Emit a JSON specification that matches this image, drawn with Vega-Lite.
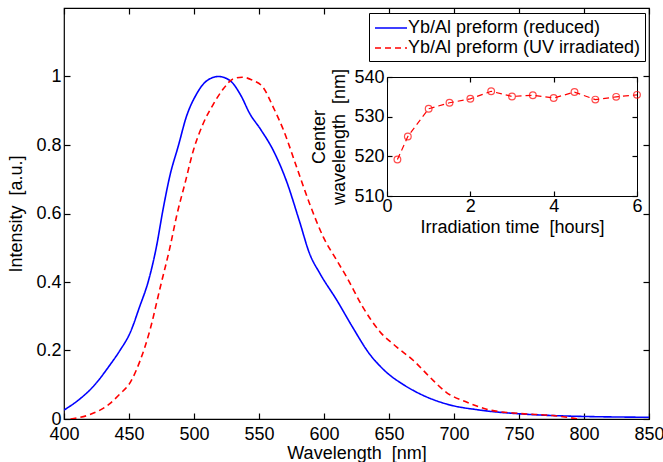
{
  "$schema": "https://vega.github.io/schema/vega-lite/v6.json",
  "width": 585,
  "height": 411,
  "autosize": {"type": "none"},
  "padding": {"left": 64, "top": 8, "right": 14, "bottom": 43},
  "background": "white",
  "config": {
    "font": "Liberation Sans",
    "view": {"stroke": "black", "strokeWidth": 1.2},
    "axis": {
      "grid": false,
      "labelFont": "Liberation Sans",
      "labelFontSize": 18,
      "labelColor": "black",
      "titleFont": "Liberation Sans",
      "titleFontSize": 18,
      "titleFontWeight": "normal",
      "titleColor": "black",
      "domainColor": "black",
      "labelFlush": false,
      "labelOverlap": false
    },
    "legend": {
      "labelFont": "Liberation Sans",
      "labelFontSize": 18,
      "labelColor": "black",
      "labelLimit": 0
    }
  },
  "datasets": {
    "spectra": [
      {"wl": 400, "I": 0.026, "series": "Yb/Al preform (reduced)"},
      {"wl": 412, "I": 0.058, "series": "Yb/Al preform (reduced)"},
      {"wl": 423, "I": 0.097, "series": "Yb/Al preform (reduced)"},
      {"wl": 435, "I": 0.156, "series": "Yb/Al preform (reduced)"},
      {"wl": 443, "I": 0.2, "series": "Yb/Al preform (reduced)"},
      {"wl": 451, "I": 0.253, "series": "Yb/Al preform (reduced)"},
      {"wl": 458, "I": 0.326, "series": "Yb/Al preform (reduced)"},
      {"wl": 465, "I": 0.404, "series": "Yb/Al preform (reduced)"},
      {"wl": 471, "I": 0.501, "series": "Yb/Al preform (reduced)"},
      {"wl": 476, "I": 0.608, "series": "Yb/Al preform (reduced)"},
      {"wl": 481.5, "I": 0.711, "series": "Yb/Al preform (reduced)"},
      {"wl": 488, "I": 0.798, "series": "Yb/Al preform (reduced)"},
      {"wl": 494, "I": 0.881, "series": "Yb/Al preform (reduced)"},
      {"wl": 502, "I": 0.949, "series": "Yb/Al preform (reduced)"},
      {"wl": 510, "I": 0.988, "series": "Yb/Al preform (reduced)"},
      {"wl": 519, "I": 1.0, "series": "Yb/Al preform (reduced)"},
      {"wl": 528, "I": 0.987, "series": "Yb/Al preform (reduced)"},
      {"wl": 536, "I": 0.945, "series": "Yb/Al preform (reduced)"},
      {"wl": 543, "I": 0.891, "series": "Yb/Al preform (reduced)"},
      {"wl": 551, "I": 0.847, "series": "Yb/Al preform (reduced)"},
      {"wl": 561, "I": 0.784, "series": "Yb/Al preform (reduced)"},
      {"wl": 571, "I": 0.696, "series": "Yb/Al preform (reduced)"},
      {"wl": 581, "I": 0.579, "series": "Yb/Al preform (reduced)"},
      {"wl": 589, "I": 0.482, "series": "Yb/Al preform (reduced)"},
      {"wl": 597, "I": 0.424, "series": "Yb/Al preform (reduced)"},
      {"wl": 610, "I": 0.346, "series": "Yb/Al preform (reduced)"},
      {"wl": 622, "I": 0.268, "series": "Yb/Al preform (reduced)"},
      {"wl": 635, "I": 0.19, "series": "Yb/Al preform (reduced)"},
      {"wl": 643, "I": 0.155, "series": "Yb/Al preform (reduced)"},
      {"wl": 650, "I": 0.13, "series": "Yb/Al preform (reduced)"},
      {"wl": 660, "I": 0.103, "series": "Yb/Al preform (reduced)"},
      {"wl": 674, "I": 0.073, "series": "Yb/Al preform (reduced)"},
      {"wl": 694, "I": 0.044, "series": "Yb/Al preform (reduced)"},
      {"wl": 720, "I": 0.026, "series": "Yb/Al preform (reduced)"},
      {"wl": 751, "I": 0.015, "series": "Yb/Al preform (reduced)"},
      {"wl": 784, "I": 0.009, "series": "Yb/Al preform (reduced)"},
      {"wl": 850, "I": 0.005, "series": "Yb/Al preform (reduced)"},
      {"wl": 405, "I": 0.0, "series": "Yb/Al preform (UV irradiated)"},
      {"wl": 420, "I": 0.013, "series": "Yb/Al preform (UV irradiated)"},
      {"wl": 435, "I": 0.044, "series": "Yb/Al preform (UV irradiated)"},
      {"wl": 443, "I": 0.073, "series": "Yb/Al preform (UV irradiated)"},
      {"wl": 451, "I": 0.107, "series": "Yb/Al preform (UV irradiated)"},
      {"wl": 458.5, "I": 0.17, "series": "Yb/Al preform (UV irradiated)"},
      {"wl": 466, "I": 0.258, "series": "Yb/Al preform (UV irradiated)"},
      {"wl": 474, "I": 0.384, "series": "Yb/Al preform (UV irradiated)"},
      {"wl": 481.5, "I": 0.501, "series": "Yb/Al preform (UV irradiated)"},
      {"wl": 487, "I": 0.599, "series": "Yb/Al preform (UV irradiated)"},
      {"wl": 493, "I": 0.687, "series": "Yb/Al preform (UV irradiated)"},
      {"wl": 499.5, "I": 0.784, "series": "Yb/Al preform (UV irradiated)"},
      {"wl": 507, "I": 0.862, "series": "Yb/Al preform (UV irradiated)"},
      {"wl": 515, "I": 0.92, "series": "Yb/Al preform (UV irradiated)"},
      {"wl": 522.6, "I": 0.964, "series": "Yb/Al preform (UV irradiated)"},
      {"wl": 530, "I": 0.993, "series": "Yb/Al preform (UV irradiated)"},
      {"wl": 537, "I": 0.998, "series": "Yb/Al preform (UV irradiated)"},
      {"wl": 545.6, "I": 0.988, "series": "Yb/Al preform (UV irradiated)"},
      {"wl": 553, "I": 0.969, "series": "Yb/Al preform (UV irradiated)"},
      {"wl": 561, "I": 0.91, "series": "Yb/Al preform (UV irradiated)"},
      {"wl": 569, "I": 0.842, "series": "Yb/Al preform (UV irradiated)"},
      {"wl": 579, "I": 0.735, "series": "Yb/Al preform (UV irradiated)"},
      {"wl": 589, "I": 0.628, "series": "Yb/Al preform (UV irradiated)"},
      {"wl": 599.5, "I": 0.531, "series": "Yb/Al preform (UV irradiated)"},
      {"wl": 610, "I": 0.462, "series": "Yb/Al preform (UV irradiated)"},
      {"wl": 617.5, "I": 0.414, "series": "Yb/Al preform (UV irradiated)"},
      {"wl": 630, "I": 0.326, "series": "Yb/Al preform (UV irradiated)"},
      {"wl": 643, "I": 0.255, "series": "Yb/Al preform (UV irradiated)"},
      {"wl": 656, "I": 0.21, "series": "Yb/Al preform (UV irradiated)"},
      {"wl": 669, "I": 0.17, "series": "Yb/Al preform (UV irradiated)"},
      {"wl": 681.5, "I": 0.122, "series": "Yb/Al preform (UV irradiated)"},
      {"wl": 694, "I": 0.078, "series": "Yb/Al preform (UV irradiated)"},
      {"wl": 710, "I": 0.049, "series": "Yb/Al preform (UV irradiated)"},
      {"wl": 728, "I": 0.026, "series": "Yb/Al preform (UV irradiated)"},
      {"wl": 751, "I": 0.016, "series": "Yb/Al preform (UV irradiated)"},
      {"wl": 776, "I": 0.01, "series": "Yb/Al preform (UV irradiated)"},
      {"wl": 796, "I": 0.0, "series": "Yb/Al preform (UV irradiated)"}
    ],
    "inset": [
      {"t": 0.25, "c": 519.2},
      {"t": 0.5, "c": 525.0},
      {"t": 1.0, "c": 532.0},
      {"t": 1.5, "c": 533.5},
      {"t": 2.0, "c": 534.5},
      {"t": 2.5, "c": 536.4},
      {"t": 3.0, "c": 535.1},
      {"t": 3.5, "c": 535.4},
      {"t": 4.0, "c": 534.7},
      {"t": 4.5, "c": 536.2},
      {"t": 5.0, "c": 534.3},
      {"t": 5.5, "c": 535.0},
      {"t": 6.0, "c": 535.5}
    ]
  },
  "resolve": {"scale": {"x": "independent", "y": "independent"}},
  "layer": [
    {
      "data": {"name": "spectra"},
      "resolve": {"axis": {"x": "independent", "y": "independent"}},
      "layer": [
        {
          "mark": {"type": "line", "strokeWidth": 1.6, "interpolate": "monotone", "clip": true},
          "encoding": {
            "x": {
              "field": "wl", "type": "quantitative",
              "scale": {"domain": [400, 850], "nice": false, "zero": false},
              "axis": {"orient": "bottom", "title": "Wavelength \u00a0[nm]", "values": [400, 450, 500, 550, 600, 650, 700, 750, 800, 850], "ticks": false, "labelPadding": 6, "titlePadding": 1, "domain": false}
            },
            "y": {
              "field": "I", "type": "quantitative",
              "scale": {"domain": [0, 1.2], "nice": false, "zero": false},
              "axis": {"orient": "left", "title": "Intensity \u00a0[a.u.]", "values": [0, 0.2, 0.4, 0.6, 0.8, 1], "format": ".1~f", "ticks": false, "labelPadding": 3, "titlePadding": 10, "domain": false}
            },
            "color": {
              "field": "series", "type": "nominal",
              "scale": {"domain": ["Yb/Al preform (reduced)", "Yb/Al preform (UV irradiated)"], "range": ["#0000ff", "#ff0000"]},
              "legend": {"orient": "none", "legendX": 305, "legendY": 5, "title": null, "strokeColor": "black", "fillColor": "white", "padding": 4, "rowPadding": 0, "symbolType": "M-1.6,0H1.6", "symbolSize": 400, "symbolStrokeWidth": 1.5, "symbolOffset": 7, "labelOffset": 6}
            },
            "strokeDash": {
              "field": "series", "type": "nominal",
              "scale": {"domain": ["Yb/Al preform (reduced)", "Yb/Al preform (UV irradiated)"], "range": [[1, 0], [6, 4]]},
              "legend": {"orient": "none", "legendX": 305, "legendY": 5, "title": null, "strokeColor": "black", "fillColor": "white", "padding": 4, "rowPadding": 0, "symbolType": "M-1.6,0H1.6", "symbolSize": 400, "symbolStrokeWidth": 1.5, "symbolOffset": 7, "labelOffset": 6}
            }
          }
        },
        {
          "mark": {"type": "line", "opacity": 0},
          "encoding": {
            "x": {"field": "wl", "type": "quantitative", "axis": {"orient": "top", "offset": -411, "ticks": true, "tickSize": 6, "tickWidth": 1.2, "tickColor": "black", "title": null, "labels": false, "domain": false, "values": [400, 450, 500, 550, 600, 650, 700, 750, 800, 850]}},
            "y": {"field": "I", "type": "quantitative", "axis": {"orient": "right", "offset": -585, "ticks": true, "tickSize": 6, "tickWidth": 1.2, "tickColor": "black", "title": null, "labels": false, "domain": false, "values": [0, 0.2, 0.4, 0.6, 0.8, 1]}},
            "detail": {"field": "series", "type": "nominal"}
          }
        },
        {
          "mark": {"type": "line", "opacity": 0},
          "encoding": {
            "x": {"field": "wl", "type": "quantitative", "axis": {"orient": "bottom", "offset": -411, "ticks": true, "tickSize": 6, "tickWidth": 1.2, "tickColor": "black", "title": null, "labels": false, "domain": false, "values": [400, 450, 500, 550, 600, 650, 700, 750, 800, 850]}},
            "y": {"field": "I", "type": "quantitative", "axis": {"orient": "left", "offset": -585, "ticks": true, "tickSize": 6, "tickWidth": 1.2, "tickColor": "black", "title": null, "labels": false, "domain": false, "values": [0, 0.2, 0.4, 0.6, 0.8, 1]}},
            "detail": {"field": "series", "type": "nominal"}
          }
        }
      ]
    },
    {
      "data": {"name": "inset"},
      "resolve": {"axis": {"x": "independent", "y": "independent"}},
      "layer": [
        {
          "mark": {"type": "line", "color": "#ff0000", "strokeWidth": 1.2, "strokeDash": [6, 4]},
          "encoding": {
            "x": {
              "field": "t", "type": "quantitative",
              "scale": {"domain": [0, 6], "range": [323, 573], "nice": false, "zero": false},
              "axis": {"orient": "bottom", "offset": -223, "title": "Irradiation time \u00a0[hours]", "values": [0, 2, 4, 6], "ticks": false, "labelPadding": 1, "titlePadding": 3, "domain": true}
            },
            "y": {
              "field": "c", "type": "quantitative",
              "scale": {"domain": [510, 540], "range": [188, 69], "nice": false, "zero": false},
              "axis": {"orient": "left", "offset": -323, "title": ["Center", "wavelength \u00a0[nm]"], "titleLineHeight": 20, "values": [510, 520, 530, 540], "ticks": false, "labelPadding": 3, "titlePadding": 5, "domain": true}
            }
          }
        },
        {
          "mark": {"type": "point", "shape": "circle", "filled": false, "color": "#ff0000", "size": 45, "strokeWidth": 1.2},
          "encoding": {
            "x": {"field": "t", "type": "quantitative", "axis": {"orient": "top", "offset": -188, "ticks": true, "tickSize": 5, "tickWidth": 1.2, "tickColor": "black", "title": null, "labels": false, "values": [0, 2, 4, 6], "domain": false}},
            "y": {"field": "c", "type": "quantitative", "axis": {"orient": "right", "offset": -262, "ticks": true, "tickSize": 5, "tickWidth": 1.2, "tickColor": "black", "title": null, "labels": false, "values": [510, 520, 530, 540], "domain": false}}
          }
        },
        {
          "mark": {"type": "point", "opacity": 0},
          "encoding": {
            "x": {"field": "t", "type": "quantitative", "axis": {"orient": "bottom", "offset": -342, "ticks": true, "tickSize": 5, "tickWidth": 1.2, "tickColor": "black", "title": null, "labels": false, "values": [0, 2, 4, 6], "domain": true}},
            "y": {"field": "c", "type": "quantitative", "axis": {"orient": "left", "offset": -573, "ticks": true, "tickSize": 5, "tickWidth": 1.2, "tickColor": "black", "title": null, "labels": false, "values": [510, 520, 530, 540], "domain": true}}
          }
        }
      ]
    }
  ]
}
